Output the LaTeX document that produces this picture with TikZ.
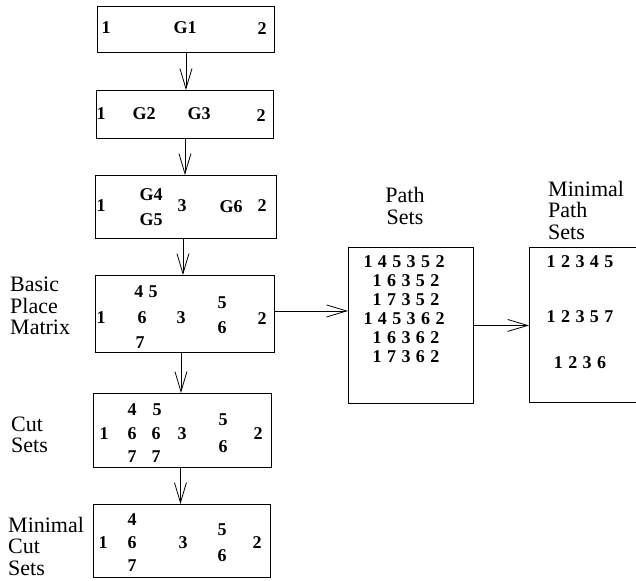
\documentclass[tikz,border=0pt]{standalone}
\usepackage{fontspec}
\setmainfont{Liberation Serif}
\usetikzlibrary{arrows.meta}
\newcommand\valfont{\fontsize{18}{18}\selectfont\bfseries\spaceskip=0.3em\relax}
\begin{document}
\begin{tikzpicture}[x=1pt,y=-1pt,
  box/.style={draw,line width=0.9pt,inner sep=0pt,anchor=north west},
  val/.style={inner sep=0pt,font=\valfont},
  lbl/.style={inner sep=0pt,align=left,anchor=west,font=\fontsize{22}{21.5}\selectfont},
  arr/.style={line width=0.8pt,-{Straight Barb[length=20pt,width=12pt,line width=0.8pt]}}]
\useasboundingbox (0,0) rectangle (636,580);

% boxes of the reduction steps
\node[box,minimum width=177pt,minimum height=46pt] (b1) at (97,6) {};
\node[box,minimum width=177pt,minimum height=48pt] (b2) at (96,90) {};
\node[box,minimum width=181pt,minimum height=63pt] (b3) at (95,175) {};
\node[box,minimum width=179pt,minimum height=77pt] (b4) at (95,275) {};
\node[box,minimum width=178pt,minimum height=74pt] (b5) at (93,393) {};
\node[box,minimum width=177pt,minimum height=73pt] (b6) at (93,504) {};
\node[box,minimum width=125pt,minimum height=156pt] (ps) at (348,247) {};
% right-hand box runs off the page edge: three sides only
\node[inner sep=0pt,anchor=north west,minimum width=110pt,minimum height=155pt] (mp) at (529,247) {};
\draw[line width=0.9pt] (mp.north east) -- (mp.north west) -- (mp.south west) -- (mp.south east);

% connectors
\draw[arr] (b1.south) -- (b1.south |- b2.north);
\draw[arr] (b2.south) -- (b2.south |- b3.north);
\draw[arr] ([xshift=-3pt]b3.south) -- ([xshift=-3pt]b3.south |- b4.north);
\draw[arr] ([xshift=-4pt]b4.south) -- ([xshift=-4pt]b4.south |- b5.north);
\draw[arr] ([xshift=-2pt]b5.south) -- ([xshift=-2pt]b5.south |- b6.north);
\draw[arr] ([yshift=3pt]b4.east) -- ([yshift=3pt]b4.east -| ps.west);
\draw[arr] (ps.east) -- (ps.east -| mp.west);

% box 1
\node[val] (t11) at (106,28) {1};
\node[val] (t12) at (185,28) {G1};
\node[val] (t13) at (262,29) {2};
% box 2
\node[val] (t21) at (101,114) {1};
\node[val] (t22) at (144,114) {G2};
\node[val] (t23) at (199,114) {G3};
\node[val] (t24) at (261,116) {2};
% box 3
\node[val] (t31) at (101,206) {1};
\node[val] (t32) at (151,195) {G4};
\node[val] (t33) at (151,220) {G5};
\node[val] (t34) at (182,206) {3};
\node[val] (t35) at (231,207) {G6};
\node[val] (t36) at (262,206) {2};
% box 4: basic place matrix
\node[val] (t41) at (101,318) {1};
\node[val] (t42) at (146,292) {4 5};
\node[val] (t43) at (142,318) {6};
\node[val] (t44) at (140,343) {7};
\node[val] (t45) at (181,318) {3};
\node[val] (t46) at (222,303) {5};
\node[val] (t47) at (222,328) {6};
\node[val] (t48) at (262,319) {2};
% box 5: cut sets
\node[val] (t51) at (104,434) {1};
\node[val] (t52) at (132,410) {4};
\node[val] (t53) at (157,410) {5};
\node[val] (t54) at (132,434) {6};
\node[val] (t55) at (156,434) {6};
\node[val] (t56) at (132,457) {7};
\node[val] (t57) at (156,457) {7};
\node[val] (t58) at (182,434) {3};
\node[val] (t59) at (223,420) {5};
\node[val] (t5a) at (223,447) {6};
\node[val] (t5b) at (258,434) {2};
% box 6: minimal cut sets
\node[val] (t61) at (103,543) {1};
\node[val] (t62) at (132,520) {4};
\node[val] (t63) at (132,543) {6};
\node[val] (t64) at (132,566) {7};
\node[val] (t65) at (183,543) {3};
\node[val] (t66) at (222,530) {5};
\node[val] (t67) at (222,556) {6};
\node[val] (t68) at (257,543) {2};
% path sets
\node[val] (p1) at (404,262) {1 4 5 3 5 2};
\node[val] (p2) at (406,281) {1 6 3 5 2};
\node[val] (p3) at (406,300) {1 7 3 5 2};
\node[val] (p4) at (404,319) {1 4 5 3 6 2};
\node[val] (p5) at (406,338) {1 6 3 6 2};
\node[val] (p6) at (406,357) {1 7 3 6 2};
% minimal path sets
\node[val] (m1) at (580,262) {1 2 3 4 5};
\node[val] (m2) at (580,317) {1 2 3 5 7};
\node[val] (m3) at (580,363) {1 2 3 6};

% side labels
\node[lbl] (l1) at (10,306) {Basic\\Place\\Matrix};
\node[lbl] (l2) at (11,435) {Cut\\Sets};
\node[lbl] (l3) at (8,546) {Minimal\\Cut\\Sets};
\node[lbl,align=center,anchor=center] (l4) at (405,206) {Path\\Sets};
\node[lbl] (l5) at (548,210) {Minimal\\Path\\Sets};
\end{tikzpicture}
\end{document}
